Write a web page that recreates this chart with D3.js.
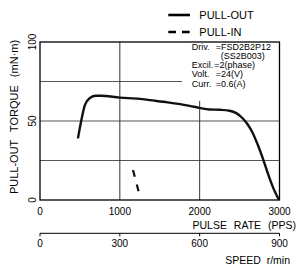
<!DOCTYPE html>
<html>
<head>
<meta charset="utf-8">
<script src="https://cdn.jsdelivr.net/npm/d3@7.9.0/dist/d3.min.js"></script>
<style>
  body { margin: 0; background: #fff; }
  svg { display: block; font-family: "Liberation Sans", Arial, sans-serif; }
</style>
</head>
<body>
<div id="chart"></div>
<script>
// pull-out torque curve (pps, mN·m)
const pullOut = [
  [475, 39], [520, 51], [562, 60], [625, 64.6], [700, 66], [760, 66],
  [1000, 64.8], [1250, 64], [1375, 63.2], [1600, 61.8], [1875, 59.6],
  [2000, 58.3], [2125, 57.3], [2250, 57.1], [2375, 56.5], [2458, 55],
  [2541, 51.6], [2604, 47.6], [2666, 42.3], [2729, 34.8], [2791, 26.4],
  [2854, 16.8], [2916, 8.3], [2994, 0]
];
// pull-in torque curve
const pullIn = [[1165, 19], [1240, 4.5]];

const pulseTicks = [0, 1000, 2000, 3000];
const speedTicks = [0, 300, 600, 900];
const torqueTicks = [0, 50, 100];
const torqueGrid = [25, 50, 75];
const specLabels = ['Driv.', '', 'Excil.', 'Volt.', 'Curr.'];
const specValues = ['=FSD2B2P12', '(SS2B003)', '=2(phase)', '=24(V)', '=0.6(A)'];

const width = 300, height = 266;
const svg = d3.select('#chart').append('svg')
  .attr('width', width).attr('height', height);

const x = d3.scaleLinear().domain([0, 3000]).range([40, 279.5]);
const xs = d3.scaleLinear().domain([0, 900]).range([40, 279.5]);
const y = d3.scaleLinear().domain([0, 100]).range([200, 42]);

// grid
svg.append('g').selectAll('line.h')
  .data(torqueGrid).join('line')
    .attr('x1', x(0)).attr('x2', x(3000))
    .attr('y1', d => y(d)).attr('y2', d => y(d))
    .attr('stroke', '#555').attr('stroke-width', 1);
svg.append('g').selectAll('line.v')
  .data([1000, 2000]).join('line')
    .attr('x1', d => x(d)).attr('x2', d => x(d))
    .attr('y1', y(0)).attr('y2', y(100))
    .attr('stroke', '#333').attr('stroke-width', 1);

// spec box (white behind text)
svg.append('rect')
  .attr('x', 182).attr('y', y(100))
  .attr('width', x(3000) - 182).attr('height', 101 - y(100))
  .attr('fill', '#fff');

// frame
svg.append('rect')
  .attr('x', x(0)).attr('y', y(100))
  .attr('width', x(3000) - x(0)).attr('height', y(0) - y(100))
  .attr('fill', 'none').attr('stroke', '#000').attr('stroke-width', 1.3);

// spec text
const spec = svg.append('g').attr('font-size', 9).attr('fill', '#000');
specLabels.forEach((t, i) => {
  const yy = 46.7 + i * 9.2;
  spec.append('text').attr('x', 191.7).attr('y', yy).attr('dy', '0.35em').text(t);
  spec.append('text')
    .attr('x', i === 1 ? 220.7 : (i === 2 ? 214.3 : 215.7))
    .attr('y', yy).attr('dy', '0.35em').text(specValues[i]);
});

// curves
const line = d3.line().x(d => x(d[0])).y(d => y(d[1])).curve(d3.curveMonotoneX);
svg.append('path').datum(pullOut)
  .attr('d', line).attr('fill', 'none')
  .attr('stroke', '#111').attr('stroke-width', 2.4)
  .attr('stroke-linejoin', 'round');
svg.append('path').datum(pullIn)
  .attr('d', d3.line().x(d => x(d[0])).y(d => y(d[1])))
  .attr('fill', 'none').attr('stroke', '#111').attr('stroke-width', 2.2)
  .attr('stroke-dasharray', '7,8');

// y axis labels
const yl = svg.append('g').attr('font-size', 10).attr('text-anchor', 'middle');
torqueTicks.forEach(t => {
  yl.append('text')
    .attr('transform', `translate(35.5,${y(t)}) rotate(-90)`)
    .text(t);
});
svg.append('text')
  .attr('transform', `translate(18,${(y(0) + y(100)) / 2 - 4}) rotate(-90)`)
  .attr('text-anchor', 'middle').attr('font-size', 11)
  .style('word-spacing', '5px')
  .text('PULL-OUT TORQUE (mN·m)');

// pulse axis labels
svg.append('g').attr('font-size', 10).attr('text-anchor', 'middle')
  .selectAll('text').data(pulseTicks).join('text')
    .attr('x', d => x(d)).attr('y', 211.7).attr('dy', '0.35em')
    .text(d => d);
svg.append('text')
  .attr('x', 296).attr('y', 225).attr('dy', '0.35em')
  .attr('text-anchor', 'end').attr('font-size', 10.5)
  .style('word-spacing', '4px')
  .text('PULSE RATE (PPS)');

// speed axis
const sAxis = svg.append('g').attr('transform', 'translate(0,233.3)');
sAxis.append('line').attr('x1', xs(0)).attr('x2', xs(900))
  .attr('stroke', '#000').attr('stroke-width', 1);
sAxis.selectAll('line.t').data(speedTicks).join('line')
  .attr('class', 't')
  .attr('x1', d => xs(d)).attr('x2', d => xs(d))
  .attr('y1', 0).attr('y2', 3).attr('stroke', '#000');
svg.append('g').attr('font-size', 10).attr('text-anchor', 'middle')
  .selectAll('text').data(speedTicks).join('text')
    .attr('x', d => xs(d)).attr('y', 243.3).attr('dy', '0.35em')
    .text(d => d);
svg.append('text')
  .attr('x', 290).attr('y', 260).attr('dy', '0.35em')
  .attr('text-anchor', 'end').attr('font-size', 10.5)
  .style('word-spacing', '3px')
  .text('SPEED r/min');

// legend
const lg = svg.append('g');
lg.append('line').attr('x1', 168.3).attr('x2', 190).attr('y1', 15).attr('y2', 15)
  .attr('stroke', '#000').attr('stroke-width', 2.6);
lg.append('line').attr('x1', 168.3).attr('x2', 190).attr('y1', 32).attr('y2', 32)
  .attr('stroke', '#000').attr('stroke-width', 2.6)
  .attr('stroke-dasharray', '7.7,6');
lg.append('text').attr('x', 199.3).attr('y', 15).attr('dy', '0.35em')
  .attr('font-size', 11).text('PULL-OUT');
lg.append('text').attr('x', 199.3).attr('y', 32).attr('dy', '0.35em')
  .attr('font-size', 11).text('PULL-IN');
</script>
</body>
</html>
